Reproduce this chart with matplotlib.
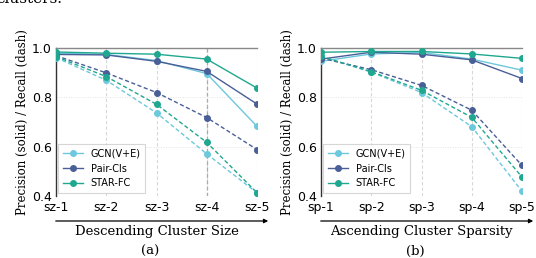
import numpy as np
import matplotlib
matplotlib.use("Agg")
import matplotlib.pyplot as plt

# values
methods = ["GCN(V+E)", "Pair-Cls", "STAR-FC"]
colors = ["#6cc8dc", "#4a5f98", "#1fa88f"]

size_ticks = ["sz-1", "sz-2", "sz-3", "sz-4", "sz-5"]
sparsity_ticks = ["sp-1", "sp-2", "sp-3", "sp-4", "sp-5"]

# (a) descending cluster size
size_prec = {
    "GCN(V+E)": [0.980, 0.975, 0.950, 0.897, 0.682],
    "Pair-Cls": [0.975, 0.973, 0.947, 0.906, 0.773],
    "STAR-FC":  [0.985, 0.980, 0.976, 0.956, 0.838],
}
size_rec = {
    "GCN(V+E)": [0.962, 0.870, 0.737, 0.570, 0.412],
    "Pair-Cls": [0.970, 0.900, 0.820, 0.718, 0.588],
    "STAR-FC":  [0.966, 0.885, 0.772, 0.617, 0.412],
}

# (b) ascending cluster sparsity
sparsity_prec = {
    "GCN(V+E)": [0.947, 0.977, 0.983, 0.956, 0.911],
    "Pair-Cls": [0.956, 0.984, 0.976, 0.953, 0.877],
    "STAR-FC":  [0.984, 0.987, 0.987, 0.977, 0.959],
}
sparsity_rec = {
    "GCN(V+E)": [0.967, 0.903, 0.820, 0.681, 0.418],
    "Pair-Cls": [0.960, 0.913, 0.849, 0.748, 0.523],
    "STAR-FC":  [0.967, 0.905, 0.829, 0.719, 0.476],
}

serif = ["DejaVu Serif"]


def draw_panel(fig, rect, ticks, prec, rec, xlabel, tag, mark_x):
    ax = fig.add_axes(rect)
    x = np.arange(len(ticks))

    for xi in x:
        ax.axvline(xi, color="#d8d8d8", lw=0.8, ls=(0, (3, 2)), zorder=0)
    if mark_x is not None:
        ax.axvline(mark_x, color="#aaaaaa", lw=0.9, ls=(0, (3, 2)), zorder=0)
    for yv in [0.4, 0.6, 0.8]:
        ax.axhline(yv, color="#e4e4e4", lw=0.7, ls=(0, (1, 1.5)), zorder=0)

    for m, c in zip(methods, colors):
        ax.plot(x, prec[m], color=c, lw=1.0, marker="o", ms=4, label=m, zorder=3)
        ax.plot(x, rec[m], color=c, lw=1.0, ls=(0, (3, 1.8)), marker="o", ms=4, zorder=3)

    ax.set_xlim(0, len(ticks) - 1)
    ax.set_ylim(0.4, 1.0)
    ax.set_xticks(x)
    ax.set_xticklabels(ticks)
    ax.set_yticks([0.4, 0.6, 0.8, 1.0])
    ax.tick_params(axis="both", length=0, labelsize=9, pad=3)
    ax.tick_params(axis="x", pad=4)

    ax.spines["right"].set_visible(False)
    ax.spines["bottom"].set_visible(False)
    ax.spines["top"].set_color("#888888")
    ax.spines["left"].set_color("#333333")
    ax.spines["top"].set_linewidth(1.0)
    ax.spines["left"].set_linewidth(1.0)

    ax.set_ylabel("Precision (solid) / Recall (dash)", family=serif, fontsize=8.5, labelpad=2)

    leg = ax.legend(loc="lower left", fontsize=7, frameon=True, borderpad=0.5,
                    handlelength=2.0, labelspacing=0.5, borderaxespad=0.25)
    leg.get_frame().set_edgecolor("#cccccc")
    leg.get_frame().set_linewidth(0.8)
    leg.get_frame().set_boxstyle("square", pad=0)

    # arrow under the tick labels
    x0 = rect[0] - 3 / 536
    x1 = rect[0] + rect[2] + 14 / 536
    ya = 1 - 221 / 258
    fig.add_artist(matplotlib.patches.FancyArrowPatch(
        (x0, ya), (x1, ya), transform=fig.transFigure,
        arrowstyle="-|>", mutation_scale=6, lw=0.9, color="black"))
    cx = rect[0] + rect[2] / 2
    fig.text(cx, 1 - 231 / 258, xlabel, family=serif, fontsize=9.5, ha="center", va="center")
    fig.text(cx - 6 / 536, 1 - 251 / 258, tag, family=serif, fontsize=9.5, ha="center", va="center")
    return ax


fig = plt.figure(figsize=(5.36, 2.58), dpi=100)

ybot = 1 - 195.7 / 258
ytop = 1 - 48.3 / 258
w = 201 / 536
draw_panel(fig, [56 / 536, ybot, w, ytop - ybot], size_ticks, size_prec, size_rec,
           "Descending Cluster Size", "(a)", 3)
draw_panel(fig, [321 / 536, ybot, w, ytop - ybot], sparsity_ticks, sparsity_prec, sparsity_rec,
           "Ascending Cluster Sparsity", "(b)", None)

# cropped sentence from the paper text above the figure
fig.text(62 / 536, 1 - 3 / 258, "clusters.", family=serif, fontsize=11, ha="right", va="baseline")

fig.savefig("out.png", dpi=100)
